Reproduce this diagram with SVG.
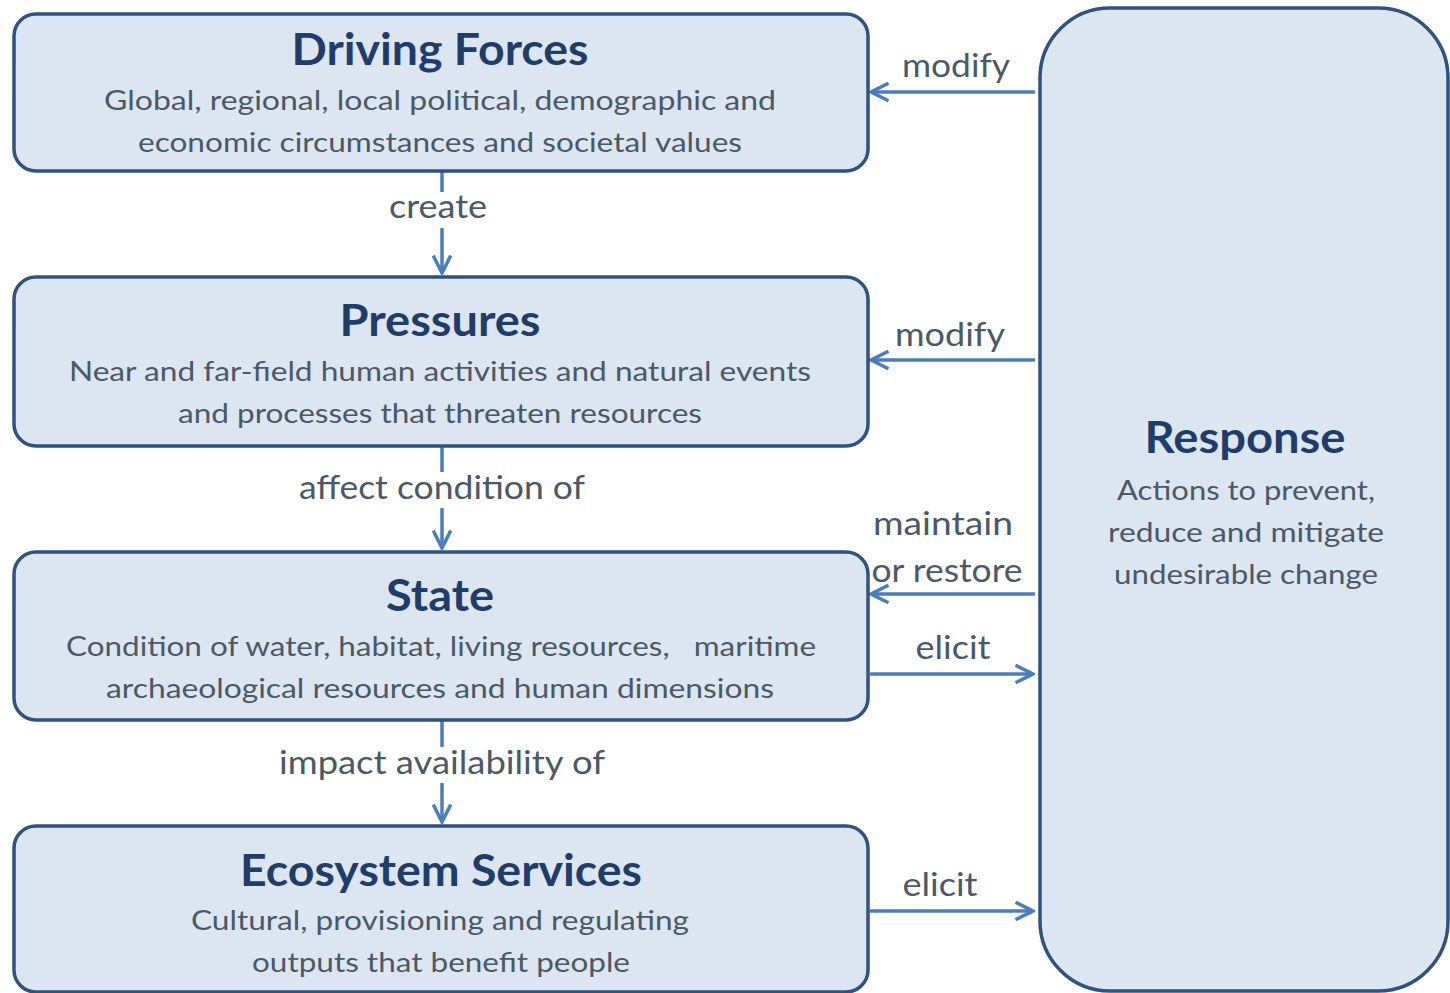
<svg xmlns="http://www.w3.org/2000/svg" width="1450" height="993" viewBox="0 0 1450 993">
<style>
.box{fill:#dce6f2;stroke:#2f527e;stroke-width:3.5}
.title{font-family:Lato,"Open Sans","Liberation Sans",sans-serif;font-weight:bold;font-size:43px;fill:#1f3d6b;text-anchor:middle}
.body{font-family:Lato,"Open Sans","Liberation Sans",sans-serif;font-size:27px;fill:#4a5868;text-anchor:middle}
.lbl{font-family:Lato,"Open Sans","Liberation Sans",sans-serif;font-size:32px;fill:#4a5868;text-anchor:middle}
.con{stroke:#4a7ebb;stroke-width:3.5;fill:none}
.lblbg{fill:#ffffff}
</style>
<defs>
<marker id="arr" viewBox="0 0 12 12" refX="11" refY="6" markerWidth="6" markerHeight="6" orient="auto" markerUnits="strokeWidth">
<path d="M1,1 L11,6 L1,11" fill="none" stroke="#4a7ebb" stroke-width="2"/>
</marker>
</defs>
<rect width="1450" height="993" fill="#ffffff"/>
<g id="connectors">
<line class="con" x1="442" y1="172" x2="442" y2="273" marker-end="url(#arr)"/>
<line class="con" x1="442" y1="447" x2="442" y2="548" marker-end="url(#arr)"/>
<line class="con" x1="442" y1="721" x2="442" y2="822" marker-end="url(#arr)"/>
<line class="con" x1="1035" y1="92" x2="871" y2="92" marker-end="url(#arr)"/>
<line class="con" x1="1035" y1="360" x2="871" y2="360" marker-end="url(#arr)"/>
<line class="con" x1="1035" y1="594" x2="871" y2="594" marker-end="url(#arr)"/>
<line class="con" x1="870" y1="674" x2="1033" y2="674" marker-end="url(#arr)"/>
<line class="con" x1="870" y1="911" x2="1033" y2="911" marker-end="url(#arr)"/>
<rect class="lblbg" x="386" y="192" width="104" height="36"/>
<text class="lbl" x="438" y="218" textLength="98" lengthAdjust="spacingAndGlyphs">create</text>
<rect class="lblbg" x="296" y="472" width="292" height="36"/>
<text class="lbl" x="442" y="499" textLength="286" lengthAdjust="spacingAndGlyphs">affect condition of</text>
<rect class="lblbg" x="276" y="747" width="332" height="36"/>
<text class="lbl" x="442" y="774" textLength="326" lengthAdjust="spacingAndGlyphs">impact availability of</text>
<text class="lbl" x="956" y="77" textLength="108" lengthAdjust="spacingAndGlyphs">modify</text>
<text class="lbl" x="950" y="346" textLength="110" lengthAdjust="spacingAndGlyphs">modify</text>
<text class="lbl" x="943" y="535" textLength="140" lengthAdjust="spacingAndGlyphs">maintain</text>
<text class="lbl" x="947" y="582" textLength="151" lengthAdjust="spacingAndGlyphs">or restore</text>
<text class="lbl" x="953" y="659" textLength="75" lengthAdjust="spacingAndGlyphs">elicit</text>
<text class="lbl" x="940" y="896" textLength="75" lengthAdjust="spacingAndGlyphs">elicit</text>
</g>
<g id="driving-forces">
<rect class="box" x="14" y="14" width="854" height="157" rx="22"/>
<text class="title" x="440" y="65" textLength="297" lengthAdjust="spacingAndGlyphs">Driving Forces</text>
<text class="body" x="440" y="110" textLength="672" lengthAdjust="spacingAndGlyphs">Global, regional, local political, demographic and</text>
<text class="body" x="440" y="152" textLength="604" lengthAdjust="spacingAndGlyphs">economic circumstances and societal values</text>
</g>
<g id="pressures">
<rect class="box" x="14" y="277" width="854" height="169" rx="22"/>
<text class="title" x="440" y="336" textLength="201" lengthAdjust="spacingAndGlyphs">Pressures</text>
<text class="body" x="440" y="381" textLength="742" lengthAdjust="spacingAndGlyphs">Near and far-field human activities and natural events</text>
<text class="body" x="440" y="423" textLength="524" lengthAdjust="spacingAndGlyphs">and processes that threaten resources</text>
</g>
<g id="state">
<rect class="box" x="14" y="552" width="854" height="168" rx="22"/>
<text class="title" x="440" y="611" textLength="108" lengthAdjust="spacingAndGlyphs">State</text>
<text class="body" x="441" y="656" textLength="750" lengthAdjust="spacingAndGlyphs" xml:space="preserve">Condition of water, habitat, living resources,   maritime</text>
<text class="body" x="440" y="698" textLength="668" lengthAdjust="spacingAndGlyphs">archaeological resources and human dimensions</text>
</g>
<g id="ecosystem-services">
<rect class="box" x="14" y="826" width="854" height="166" rx="22"/>
<text class="title" x="441" y="886" textLength="402" lengthAdjust="spacingAndGlyphs">Ecosystem Services</text>
<text class="body" x="440" y="930" textLength="498" lengthAdjust="spacingAndGlyphs">Cultural, provisioning and regulating</text>
<text class="body" x="441" y="972" textLength="378" lengthAdjust="spacingAndGlyphs">outputs that benefit people</text>
</g>
<g id="response">
<rect class="box" x="1040" y="8" width="408" height="983" rx="70"/>
<text class="title" x="1245" y="453" textLength="201" lengthAdjust="spacingAndGlyphs">Response</text>
<text class="body" x="1246" y="500" textLength="258" lengthAdjust="spacingAndGlyphs">Actions to prevent,</text>
<text class="body" x="1246" y="542" textLength="276" lengthAdjust="spacingAndGlyphs">reduce and mitigate</text>
<text class="body" x="1246" y="584" textLength="264" lengthAdjust="spacingAndGlyphs">undesirable change</text>
</g>
</svg>
